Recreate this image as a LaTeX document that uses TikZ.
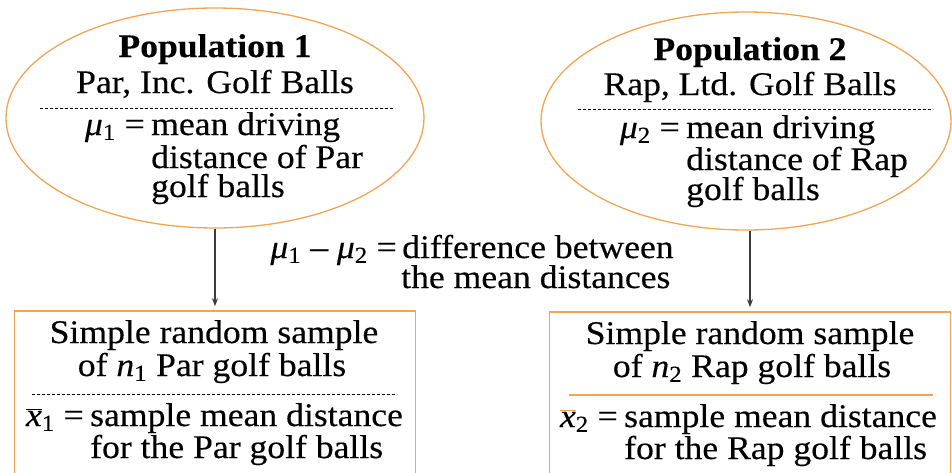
\RequirePackage{fix-cm}
\documentclass[tikz,border=0pt]{standalone}
\usepackage{fontspec}
\setmainfont{Liberation Serif}[FakeStretch=1.08, FakeBold=0.3]
\usetikzlibrary{shapes.geometric,arrows.meta}
\definecolor{orng}{RGB}{240,164,84}
\definecolor{arrgray}{RGB}{60,60,60}
\newcommand{\bigfs}{\fontsize{33}{36}\selectfont}
\newcommand{\imu}[1]{\textit{μ}\textsubscript{#1}}
\newcommand{\ivar}[2]{\textit{#1}\textsubscript{#2}}
\tikzset{
  ell/.style={draw=orng, line width=1.3pt, ellipse, inner sep=0pt, minimum width=418pt, minimum height=220pt},
  sbox/.style={draw=orng, line width=1.6pt, rectangle, inner sep=0pt, minimum width=401pt, minimum height=190pt},
  txt/.style={font=\bigfs, inner sep=0pt, anchor=base},
  txtw/.style={txt, anchor=base west},
  txte/.style={txt, anchor=base east},
  dline/.style={draw=black, line width=0.8pt, dash pattern=on 3pt off 2pt},
  arr/.style={draw=arrgray, line width=1.4pt, -{Stealth[length=8pt,width=6pt]}, shorten >=4pt},
}
\begin{document}
\begin{tikzpicture}[x=1pt,y=-1pt]
\useasboundingbox (0,0) rectangle (952,472);
% population ellipses
\node[ell] (pop1) at (215,118) {};
\node[ell, minimum width=410pt, minimum height=218pt] (pop2) at (746,121) {};
% sample boxes
\node[sbox] (box1) at (215,406) {};
\node[sbox] (box2) at (750,407) {};
% population 1 text
\node[txt, font=\bigfs\bfseries] (p1a) at (215,57) {Population 1};
\node[txt] (p1b) at (215,93) {Par, Inc. Golf Balls};
\draw[dline] (40,108) -- (393,108);
\node[txte] (p1c) at (145,135) {\imu{1} =};
\node[txtw] (p1d) at (151,135) {mean driving};
\node[txtw] (p1e) at (151,168) {distance of Par};
\node[txtw] (p1f) at (151,197) {golf balls};
% population 2 text
\node[txt, font=\bigfs\bfseries] (p2a) at (750,60) {Population 2};
\node[txt] (p2b) at (750,95) {Rap, Ltd. Golf Balls};
\draw[dline] (578,109) -- (933,109);
\node[txte] (p2c) at (680,138) {\imu{2} =};
\node[txtw] (p2d) at (686,138) {mean driving};
\node[txtw] (p2e) at (686,170) {distance of Rap};
\node[txtw] (p2f) at (686,200) {golf balls};
% difference text
\node[txte] (dfa) at (397,258) {\imu{1} – \imu{2} =};
\node[txtw] (dfb) at (402,258) {difference between};
\node[txtw] (dfc) at (401,288) {the mean distances};
% sample 1 text
\node[txt] (s1a) at (214,343) {Simple random sample};
\node[txt] (s1b) at (212,376) {of \ivar{n}{1} Par golf balls};
\draw[dline] (32,394) -- (397,394);
\node[txte] (s1c) at (84,426) {$\overline{\mbox{\bigfs\itshape x}}$\textsubscript{1} =};
\node[txtw] (s1d) at (90,426) {sample mean distance};
\node[txtw] (s1e) at (90,458) {for the Par golf balls};
% sample 2 text
\node[txt] (s2a) at (750,344) {Simple random sample};
\node[txt] (s2b) at (752,377) {of \ivar{n}{2} Rap golf balls};
\draw[draw=orng, line width=1.2pt] (569,395) -- (933,395);
\node[txte] (s2c) at (618,427) {\textcolor{orng}{$\overline{\mbox{\bigfs\itshape\textcolor{black}{x}}}$}\textsubscript{2} =};
\node[txtw] (s2d) at (624,427) {sample mean distance};
\node[txtw] (s2e) at (624,459) {for the Rap golf balls};
% arrows
\draw[arr] (pop1.south) -- (pop1.south |- box1.north);
\draw[arr] (box2.north |- pop2.south) -- (box2.north);
\end{tikzpicture}
\end{document}
